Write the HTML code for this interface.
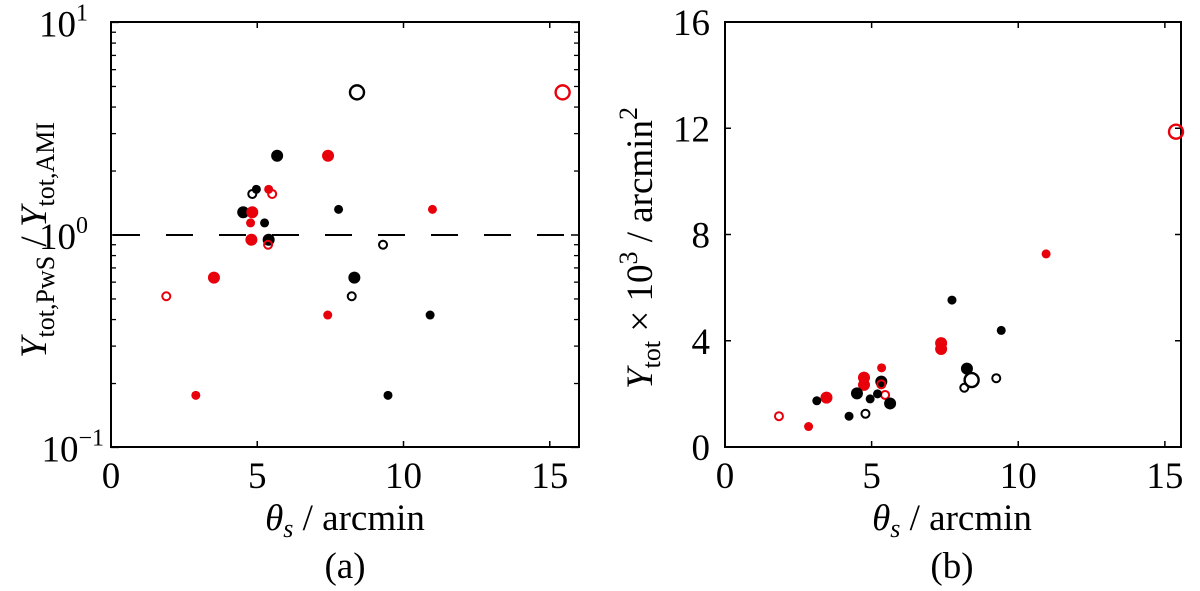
<!DOCTYPE html>
<html><head><meta charset="utf-8"><style>
body{margin:0;background:#fff;width:1200px;height:586px;overflow:hidden}
svg text{font-family:"Liberation Serif",serif;fill:#000}
</style></head><body>
<svg id="fig" width="1200" height="586" viewBox="0 0 1200 586">
<g id="pa"></g>
<g id="pb"></g>
</svg>
<script>
// Panel (a): theta_s vs Y_PwS/Y_AMI (log)
const aX=[8.41,15.44,5.68,7.42,4.83,4.97,5.39,5.51,4.52,4.83,7.78,10.99,4.77,5.25,4.80,5.39,5.37,9.30,3.52,8.32,1.89,8.23,7.41,10.91,2.90,9.47];
const aY=[4.69,4.69,2.36,2.36,1.56,1.64,1.64,1.56,1.28,1.28,1.32,1.32,1.14,1.14,0.95,0.95,0.90,0.90,0.63,0.63,0.515,0.515,0.42,0.42,0.176,0.176];
const aColor=['k','r','k','r','k','k','r','r','k','r','k','r','r','k','r','k','r','k','r','k','r','k','r','k','r','k'];
const aKind=['ob','ob','fm','fm','os','fs','fs','os','fm','fm','fs','fs','fs','fs','fm','fm','os','os','fm','fm','os','os','fs','fs','fs','fs'];
// Panel (b): theta_s vs Y_tot x 1e3
const bX=[15.38,10.95,7.74,9.42,7.37,7.37,8.25,8.41,9.25,8.16,5.34,4.74,4.74,5.33,5.33,5.46,4.50,5.20,4.95,5.63,3.46,3.13,4.79,4.23,1.84,2.85];
const bY=[11.87,7.27,5.53,4.39,3.91,3.69,2.95,2.52,2.59,2.23,2.98,2.61,2.34,2.46,2.36,1.96,2.02,2.00,1.81,1.64,1.86,1.74,1.25,1.16,1.16,0.77];
const bColor=['r','r','k','k','r','r','k','k','k','k','r','r','r','k','r','r','k','k','k','k','r','k','k','k','r','r'];
const bKind=['ob','fs','fs','fs','fm','fm','fm','ob','os','os','fs','fm','fm','fm','os','os','fm','fs','fs','fm','fm','fs','os','fs','os','fs'];
const xTicks=[0,5,10,15];
const bTicks=[0,4,8,12,16];

const NS='http://www.w3.org/2000/svg';
function mk(p,t,a){const e=document.createElementNS(NS,t);for(const k in a)e.setAttribute(k,a[k]);p.appendChild(e);return e;}
const col={k:'#000',r:'#e8000b'};

function axesBox(g,L,R,T,B){
  const r=mk(g,'rect',{x:L,y:T,width:R-L,height:B-T,fill:'none',stroke:'#000','stroke-width':2});
  
  
}
function marker(g,x,y,c,k){
  let e;
  if(k==='ob') e=mk(g,'circle',{cx:x,cy:y,r:7,fill:'none',stroke:col[c],'stroke-width':2.4});
  else if(k==='os') e=mk(g,'circle',{cx:x,cy:y,r:4,fill:'none',stroke:col[c],'stroke-width':2});
  else if(k==='fm') e=mk(g,'circle',{cx:x,cy:y,r:6,fill:col[c]});
  else e=mk(g,'circle',{cx:x,cy:y,r:4.5,fill:col[c]});
  
  
}
function txt(g,x,y,s,size,anchor,name){
  const t=mk(g,'text',{x:x,y:y,'font-size':size,'text-anchor':anchor||'middle'});
  t.innerHTML=s;
  
  
  return t;
}

// Panel a
(function(){
  const g=document.getElementById('pa');
  const L=111,R=579,T=22,B=447;
  const xs=v=>L+v*(R-L)/16;
  const ys=v=>235-Math.log10(v)*212.5;
  axesBox(g,L,R,T,B);
  xTicks.forEach(v=>{mk(g,'line',{x1:xs(v),x2:xs(v),y1:B,y2:B-6,stroke:'#000','stroke-width':1.5});mk(g,'line',{x1:xs(v),x2:xs(v),y1:T,y2:T+6,stroke:'#000','stroke-width':1.5});
    txt(g,xs(v),488,String(v),37,'middle','x-tick-label');});
  for(let d=-1;d<1;d++)for(let m=1;m<=10;m++){const v=m*Math.pow(10,d);const len=(m===1||m===10)?8:5;
    mk(g,'line',{x1:L,x2:L+len,y1:ys(v),y2:ys(v),stroke:'#000','stroke-width':1.3});
    mk(g,'line',{x1:R,x2:R-len,y1:ys(v),y2:ys(v),stroke:'#000','stroke-width':1.3});}
  [[1,'1'],[0,'0'],[-1,'−1']].forEach(([p,s])=>{
    const t=txt(g,88,ys(Math.pow(10,p))+14,'10<tspan font-size="24" dy="-16">'+s+'</tspan>',37,'end','y-tick-label');
    t.setAttribute('x', p===-1?104:88);
  });
  const dl=mk(g,'line',{x1:L,x2:R,y1:ys(1),y2:ys(1),stroke:'#000','stroke-width':2,'stroke-dasharray':'27 26','stroke-dashoffset':'-2'});
  
  
  aX.forEach((v,i)=>marker(g,xs(v),ys(aY[i]),aColor[i],aKind[i]));
  txt(g,345,530,'<tspan font-style="italic">θ</tspan><tspan font-style="italic" font-size="26" dy="7">s</tspan><tspan dy="-7"> / arcmin</tspan>',37,'middle','x-axis-title');
  txt(g,345,578,'(a)',37,'middle','panel-label-a');
  const yt=txt(g,0,0,'<tspan font-style="italic">Y</tspan><tspan font-size="26" dy="8">tot,PwS</tspan><tspan dy="-8"> / </tspan><tspan font-style="italic">Y</tspan><tspan font-size="26" dy="8">tot,AMI</tspan>',37,'middle','y-axis-title');
  yt.setAttribute('transform','translate(46,240) rotate(-90)');
})();

// Panel b
(function(){
  const g=document.getElementById('pb');
  const L=725,R=1181,T=22,B=447;
  const xs=v=>L+v*(R-L)/15.55;
  const ys=v=>B-v*(B-T)/16;
  axesBox(g,L,R,T,B);
  xTicks.forEach(v=>{mk(g,'line',{x1:xs(v),x2:xs(v),y1:B,y2:B-6,stroke:'#000','stroke-width':1.5});mk(g,'line',{x1:xs(v),x2:xs(v),y1:T,y2:T+6,stroke:'#000','stroke-width':1.5});
    txt(g,xs(v),488,String(v),37,'middle','x-tick-label');});
  bTicks.forEach(v=>{mk(g,'line',{x1:L,x2:L+6,y1:ys(v),y2:ys(v),stroke:'#000','stroke-width':1.5});mk(g,'line',{x1:R,x2:R-6,y1:ys(v),y2:ys(v),stroke:'#000','stroke-width':1.5});
    txt(g,710,ys(v)+13,String(v),37,'end','y-tick-label');});
  bX.forEach((v,i)=>marker(g,xs(v),ys(bY[i]),bColor[i],bKind[i]));
  txt(g,952,530,'<tspan font-style="italic">θ</tspan><tspan font-style="italic" font-size="26" dy="7">s</tspan><tspan dy="-7"> / arcmin</tspan>',37,'middle','x-axis-title');
  txt(g,952,578,'(b)',37,'middle','panel-label-b');
  const yt=txt(g,0,0,'<tspan font-style="italic">Y</tspan><tspan font-size="26" dy="8">tot</tspan><tspan dy="-8"> × 10</tspan><tspan font-size="26" dy="-15">3</tspan><tspan dy="15"> / arcmin</tspan><tspan font-size="26" dy="-15">2</tspan>',37,'middle','y-axis-title');
  yt.setAttribute('transform','translate(652,248) rotate(-90)');
})();
</script>
</body></html>
